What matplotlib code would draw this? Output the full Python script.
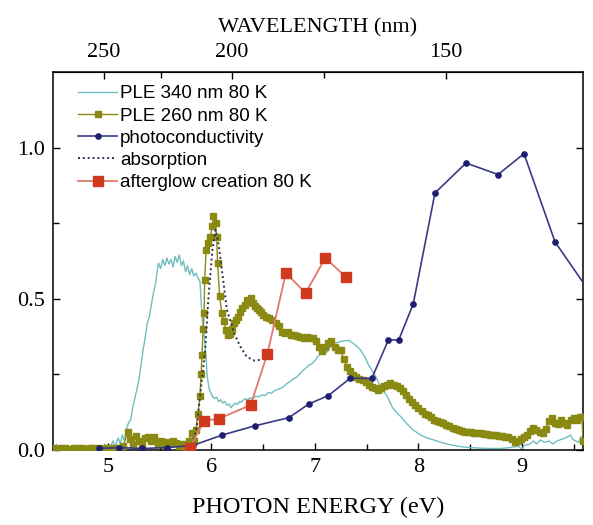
import numpy as np
import matplotlib
matplotlib.use("Agg")
import matplotlib.pyplot as plt
from matplotlib.ticker import FixedLocator, NullFormatter

# PLE 340 nm 80 K (thin teal line)
ple340_x = [4.47, 4.52, 4.56, 4.58, 4.62, 4.66, 4.70, 4.72, 4.76, 4.80, 4.84, 4.86, 4.90, 4.94, 4.97,
            4.99, 5.02, 5.05, 5.07, 5.10, 5.12, 5.14, 5.16, 5.18, 5.20, 5.22, 5.24, 5.26, 5.28, 5.30,
            5.32, 5.34, 5.36, 5.38, 5.40, 5.42, 5.44, 5.46, 5.48, 5.49, 5.51, 5.53, 5.55, 5.57, 5.59,
            5.61, 5.63, 5.65, 5.67, 5.69, 5.71, 5.73, 5.75, 5.77, 5.79, 5.81, 5.83, 5.85, 5.87, 5.89,
            5.90, 5.91, 5.93, 5.95, 5.96, 5.98, 6.01, 6.03, 6.05, 6.07, 6.09, 6.11, 6.13, 6.15, 6.17,
            6.19, 6.21, 6.23, 6.25, 6.27, 6.29, 6.31, 6.33, 6.35, 6.37, 6.40, 6.43, 6.46, 6.49, 6.52,
            6.55, 6.58, 6.61, 6.64, 6.67, 6.70, 6.73, 6.76, 6.79, 6.82, 6.85, 6.88, 6.91, 6.94, 6.97,
            7.00, 7.03, 7.06, 7.09, 7.12, 7.15, 7.18, 7.21, 7.24, 7.27, 7.30, 7.33, 7.36, 7.40, 7.44,
            7.48, 7.52, 7.57, 7.62, 7.66, 7.70, 7.75, 7.80, 7.83, 7.88, 7.95, 8.02, 8.08, 8.15, 8.22,
            8.30, 8.41, 8.50, 8.60, 8.70, 8.79, 8.86, 8.92, 8.97, 9.00, 9.02, 9.05, 9.08, 9.11, 9.14,
            9.18, 9.22, 9.26, 9.30, 9.34, 9.38, 9.42, 9.45, 9.47, 9.49, 9.52, 9.55, 9.57, 9.59]
ple340_y = [0.005, 0.003, 0.012, 0.002, 0.004, 0.003, 0.010, 0.002, 0.005, 0.003, 0.015, 0.003, 0.006, 0.004, 0.020,
            0.005, 0.008, 0.030, 0.010, 0.040, 0.020, 0.050, 0.030, 0.070, 0.090, 0.100, 0.140, 0.170, 0.200, 0.232,
            0.280, 0.330, 0.370, 0.420, 0.440, 0.480, 0.519, 0.550, 0.600, 0.618, 0.600, 0.630, 0.610, 0.635, 0.615,
            0.630, 0.605, 0.640, 0.620, 0.645, 0.610, 0.625, 0.590, 0.610, 0.580, 0.600, 0.575, 0.585, 0.570, 0.557,
            0.500, 0.440, 0.386, 0.300, 0.243, 0.200, 0.177, 0.170, 0.175, 0.160, 0.166, 0.155, 0.160, 0.148, 0.152,
            0.140, 0.148, 0.155, 0.150, 0.160, 0.158, 0.166, 0.170, 0.165, 0.172, 0.170, 0.178, 0.176, 0.182, 0.180,
            0.190, 0.188, 0.196, 0.200, 0.204, 0.210, 0.220, 0.226, 0.235, 0.240, 0.250, 0.262, 0.270, 0.280, 0.285,
            0.295, 0.310, 0.318, 0.320, 0.325, 0.340, 0.353, 0.355, 0.358, 0.360, 0.362, 0.362, 0.355, 0.345, 0.331,
            0.310, 0.280, 0.254, 0.220, 0.195, 0.177, 0.140, 0.120, 0.110, 0.090, 0.066, 0.050, 0.040, 0.033, 0.025,
            0.018, 0.011, 0.008, 0.006, 0.005, 0.005, 0.007, 0.010, 0.012, 0.000, 0.015, 0.017, 0.020, 0.030, 0.020,
            0.033, 0.025, 0.030, 0.020, 0.030, 0.035, 0.040, 0.045, 0.050, 0.035, 0.030, 0.025, 0.045, 0.020]

# PLE 260 nm 80 K (olive squares)
ple260_x = [4.47, 4.51, 4.55, 4.59, 4.63, 4.67, 4.71, 4.75, 4.79, 4.83, 4.87, 4.91, 4.95, 4.99, 5.03,
            5.07, 5.11, 5.15, 5.19, 5.21, 5.24, 5.27, 5.30, 5.33, 5.36, 5.39, 5.42, 5.45, 5.48, 5.51,
            5.54, 5.57, 5.60, 5.63, 5.66, 5.69, 5.72, 5.75, 5.78, 5.81, 5.83, 5.85, 5.87, 5.89, 5.90,
            5.91, 5.92, 5.93, 5.935, 5.95, 5.97, 5.99, 6.01, 6.02, 6.04, 6.05, 6.06, 6.08, 6.10, 6.12,
            6.14, 6.16, 6.18, 6.20, 6.22, 6.24, 6.26, 6.28, 6.30, 6.32, 6.34, 6.36, 6.38, 6.40, 6.42,
            6.44, 6.46, 6.48, 6.50, 6.53, 6.56, 6.59, 6.62, 6.65, 6.68, 6.71, 6.74, 6.77, 6.80, 6.83,
            6.86, 6.89, 6.92, 6.95, 6.98, 7.01, 7.04, 7.07, 7.10, 7.13, 7.16, 7.19, 7.22, 7.25, 7.28,
            7.31, 7.34, 7.37, 7.40, 7.43, 7.46, 7.49, 7.52, 7.55, 7.58, 7.61, 7.64, 7.67, 7.70, 7.73,
            7.76, 7.79, 7.82, 7.85, 7.88, 7.91, 7.94, 7.97, 8.00, 8.03, 8.06, 8.09, 8.12, 8.15, 8.18,
            8.21, 8.24, 8.27, 8.30, 8.33, 8.36, 8.39, 8.42, 8.45, 8.48, 8.51, 8.54, 8.57, 8.60, 8.63,
            8.66, 8.69, 8.72, 8.75, 8.78, 8.81, 8.84, 8.87, 8.90, 8.93, 8.96, 8.99, 9.02, 9.05, 9.08,
            9.11, 9.14, 9.17, 9.20, 9.23, 9.26, 9.29, 9.32, 9.35, 9.38, 9.41, 9.44, 9.47, 9.50, 9.53,
            9.56, 9.58, 9.59]
ple260_y = [0.005, 0.004, 0.006, 0.005, 0.004, 0.006, 0.005, 0.005, 0.004, 0.006, 0.005, 0.006, 0.004, 0.005, 0.006,
            0.005, 0.008, 0.012, 0.061, 0.035, 0.020, 0.045, 0.030, 0.015, 0.040, 0.044, 0.030, 0.044, 0.020, 0.030,
            0.015, 0.025, 0.023, 0.030, 0.024, 0.012, 0.020, 0.010, 0.030, 0.055, 0.030, 0.066, 0.120, 0.177, 0.250,
            0.315, 0.400, 0.453, 0.563, 0.662, 0.684, 0.706, 0.740, 0.775, 0.751, 0.706, 0.618, 0.508, 0.453, 0.425,
            0.397, 0.380, 0.385, 0.400, 0.420, 0.430, 0.441, 0.455, 0.469, 0.480, 0.497, 0.490, 0.502, 0.485, 0.475,
            0.470, 0.464, 0.455, 0.447, 0.440, 0.436, 0.430, 0.420, 0.410, 0.390, 0.386, 0.390, 0.380, 0.381, 0.378,
            0.375, 0.372, 0.375, 0.370, 0.370, 0.360, 0.340, 0.326, 0.340, 0.353, 0.360, 0.342, 0.330, 0.331, 0.300,
            0.276, 0.260, 0.248, 0.240, 0.235, 0.232, 0.225, 0.215, 0.208, 0.204, 0.200, 0.204, 0.210, 0.215, 0.221,
            0.215, 0.210, 0.204, 0.195, 0.182, 0.170, 0.160, 0.149, 0.140, 0.130, 0.120, 0.116, 0.108, 0.100, 0.097,
            0.094, 0.088, 0.082, 0.078, 0.072, 0.070, 0.066, 0.064, 0.061, 0.060, 0.058, 0.057, 0.055, 0.055, 0.053,
            0.052, 0.050, 0.050, 0.048, 0.046, 0.045, 0.044, 0.042, 0.035, 0.028, 0.030, 0.038, 0.044, 0.050, 0.062,
            0.072, 0.065, 0.060, 0.055, 0.070, 0.095, 0.105, 0.090, 0.085, 0.100, 0.090, 0.083, 0.100, 0.105, 0.100,
            0.110, 0.110, 0.030]

# photoconductivity (navy dots)
photo_x = [4.91, 5.11, 5.33, 5.57, 5.82, 6.10, 6.42, 6.75, 6.94, 7.13, 7.34, 7.55, 7.71, 7.81, 7.95,
           8.16, 8.46, 8.77, 9.02, 9.32, 9.70]
photo_y = [0.005, 0.008, 0.005, 0.008, 0.015, 0.049, 0.080, 0.107, 0.152, 0.180, 0.237, 0.237, 0.364, 0.364, 0.483,
           0.850, 0.949, 0.911, 0.980, 0.688, 0.500]

# absorption (dotted)
absorb_x = [5.80, 5.83, 5.86, 5.89, 5.94, 5.97, 6.01, 6.04, 6.07, 6.10, 6.15, 6.22, 6.28, 6.34, 6.41, 6.47]
absorb_y = [0.005, 0.030, 0.080, 0.176, 0.331, 0.497, 0.662, 0.728, 0.680, 0.600, 0.464, 0.386, 0.342, 0.309, 0.296, 0.298]

# afterglow creation 80 K (red squares)
glow_x = [5.79, 5.93, 6.07, 6.38, 6.54, 6.72, 6.91, 7.10, 7.30]
glow_y = [0.005, 0.097, 0.103, 0.149, 0.317, 0.585, 0.519, 0.635, 0.572]

serif = "Liberation Serif"

fig = plt.figure(figsize=(5.93, 5.25), dpi=100)
ax = fig.add_axes([53 / 593, 75 / 525, 530 / 593, 378 / 525])

ax.plot(ple340_x, ple340_y, color="#6fbfbf", lw=1.0, label="PLE 340 nm 80 K", zorder=2)
ax.plot(ple260_x, ple260_y, color="#8a8a12", lw=1.0, marker="s", ms=4.2, mec="#8a8a12",
        mfc="#8a8a12", label="PLE 260 nm 80 K", zorder=3)
ax.plot(photo_x, photo_y, color="#3a3a85", lw=1.2, marker="o", ms=3.8, mfc="#1f1f70",
        mec="#1f1f70", label="photoconductivity", zorder=5)
ax.plot(absorb_x, absorb_y, color="#2e2e55", lw=1.4, ls=(0, (1, 1.5)), label="absorption", zorder=4)
ax.plot(glow_x, glow_y, color="#e07a6a", lw=1.3, marker="s", ms=7, mfc="#cf3a1e", mec="#cf3a1e",
        label="afterglow creation 80 K", zorder=6)

ax.set_xlim(4.47, 9.59)
ax.set_ylim(0, 1.25)

ax.xaxis.set_major_locator(FixedLocator([5, 6, 7, 8, 9]))
ax.xaxis.set_minor_locator(FixedLocator([4.5, 5.5, 6.5, 7.5, 8.5, 9.5]))
ax.yaxis.set_major_locator(FixedLocator([0.0, 0.5, 1.0]))
ax.yaxis.set_minor_locator(FixedLocator([0.25, 0.75]))
ax.set_yticklabels(["0.0", "0.5", "1.0"])
ax.tick_params(which="both", direction="in", top=False, right=True, width=1.0)
ax.tick_params(which="major", length=5, pad=6)
ax.tick_params(which="minor", length=4)
for lab in ax.get_xticklabels() + ax.get_yticklabels():
    lab.set_fontfamily(serif)
    lab.set_fontsize(16)

for sp in ax.spines.values():
    sp.set_linewidth(1.1)


def ev_to_nm(e):
    e = np.asarray(e, dtype=float)
    return 1239.84 / np.where(e == 0, 1e-9, e)


top = ax.secondary_xaxis("top", functions=(ev_to_nm, ev_to_nm))
top.xaxis.set_major_locator(FixedLocator([250, 200, 150]))
top.xaxis.set_minor_locator(FixedLocator([225, 175]))
top.xaxis.set_minor_formatter(NullFormatter())
top.tick_params(which="both", direction="in", width=1.0)
top.tick_params(which="major", length=5, pad=7)
top.tick_params(which="minor", length=4)
for lab in top.get_xticklabels():
    lab.set_fontfamily(serif)
    lab.set_fontsize(16)
top.set_xlabel("WAVELENGTH (nm)", fontfamily=serif, fontsize=16, labelpad=8)

ax.set_xlabel("PHOTON ENERGY (eV)", fontfamily=serif, fontsize=17.5, labelpad=14)

ax.legend(loc="upper left", bbox_to_anchor=(0.047, 0.965), frameon=False, borderpad=0,
          borderaxespad=0, handlelength=2.1, handletextpad=0.15, labelspacing=0.27,
          prop={"family": "Liberation Sans", "size": 13.5})

fig.savefig("out.png", dpi=100)
